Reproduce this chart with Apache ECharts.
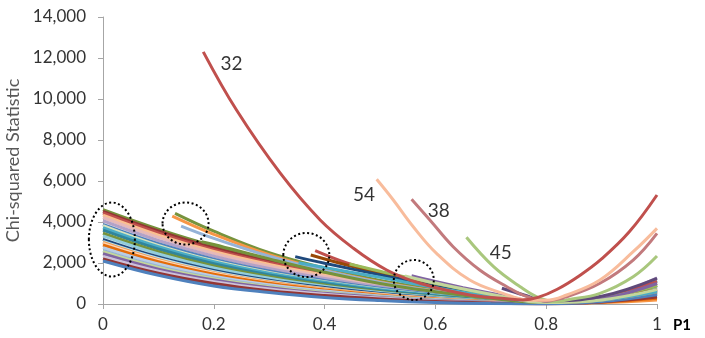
<!DOCTYPE html>
<html>
<head>
<meta charset="utf-8">
<script src="https://cdn.jsdelivr.net/npm/echarts@6/dist/echarts.min.js"></script>
<style>
  html, body { margin: 0; padding: 0; background: #fff; }
  #chart { width: 705px; height: 338px; }
</style>
</head>
<body>
<div id="chart"></div>
<script>
// x ticks and sampled P1 positions
const xTicks = [0, 0.2, 0.4, 0.6, 0.8, 1]
const yTicks = [0, 2000, 4000, 6000, 8000, 10000, 12000, 14000]
const pSteps = [0, 0.1, 0.2, 0.3, 0.4, 0.5, 0.6, 0.7, 0.8, 0.9, 1]

// curves starting at P1 = 0, one value per pSteps entry
const zeroCurves = [
  [4600, 3650, 2830, 2180, 1620, 1120, 700, 350, 120, 260, 900],
  [4520, 3560, 2740, 2090, 1540, 1060, 660, 320, 100, 220, 780],
  [4440, 3470, 2650, 2010, 1480, 1010, 630, 300, 90, 200, 650],
  [4330, 3360, 2560, 1930, 1410, 960, 590, 280, 80, 240, 980],
  [4220, 3250, 2460, 1840, 1340, 900, 550, 260, 70, 190, 720],
  [4060, 3100, 2330, 1730, 1250, 840, 510, 240, 70, 280, 1280],
  [3880, 2940, 2190, 1610, 1150, 770, 460, 210, 60, 170, 560],
  [3820, 2860, 2110, 1540, 1090, 720, 430, 200, 55, 200, 820],
  [3720, 2790, 2060, 1500, 1060, 700, 420, 190, 50, 160, 520],
  [3600, 2680, 1960, 1420, 1000, 650, 390, 170, 50, 190, 680],
  [3450, 2550, 1850, 1330, 930, 600, 350, 150, 40, 140, 480],
  [3320, 2440, 1760, 1260, 870, 560, 330, 140, 40, 220, 1100],
  [3150, 2290, 1640, 1160, 800, 510, 290, 120, 30, 110, 380],
  [3050, 2220, 1580, 1110, 760, 480, 280, 115, 30, 200, 1150],
  [3000, 2160, 1530, 1070, 730, 460, 260, 110, 30, 70, 200],
  [2950, 2120, 1500, 1040, 710, 450, 250, 105, 25, 160, 900],
  [2880, 2060, 1450, 1010, 680, 430, 240, 100, 25, 90, 280],
  [2750, 1950, 1360, 940, 630, 390, 220, 90, 20, 170, 960],
  [2610, 1830, 1270, 870, 580, 360, 200, 80, 20, 150, 860],
  [2550, 1780, 1230, 840, 560, 340, 190, 75, 15, 130, 600],
  [2450, 1700, 1170, 790, 520, 320, 170, 70, 15, 110, 500],
  [2320, 1600, 1090, 730, 480, 290, 150, 60, 15, 160, 1040],
  [2200, 1500, 1000, 650, 410, 240, 120, 45, 10, 100, 340],
  [2100, 1400, 880, 560, 320, 170, 70, 20, 10, 120, 450],
]
const zeroColors = [
  '#76923C', '#943634', '#C0504D', '#FAC090', '#E6B9B8', '#B3A2C7',
  '#4F81BD', '#D7E4BD', '#4BACC6', '#31859C', '#76923C', '#93CDDD',
  '#1F497D', '#B7DEE8', '#F79646', '#FCD5B5', '#E46C0A', '#B9CDE5',
  '#95B3D7', '#C3D69B', '#8064A2', '#CCC1DA', '#943634', '#4F81BD',
]

// curves that start further right, as [P1, statistic] pairs
const lateCurves = [
  [[0.13, 4420], [0.2, 3550], [0.3, 2500], [0.4, 1750], [0.5, 1150], [0.6, 700], [0.7, 330], [0.8, 100], [0.9, 300], [1, 1000]],
  [[0.125, 4290], [0.2, 3400], [0.3, 2400], [0.4, 1650], [0.5, 1080], [0.6, 640], [0.7, 300], [0.8, 90], [0.9, 200], [1, 600]],
  [[0.141, 3800], [0.2, 3200], [0.3, 2330], [0.4, 1620], [0.5, 1050], [0.6, 620], [0.7, 290], [0.8, 80], [0.9, 280], [1, 1150]],
  [[0.178, 3040], [0.2, 2900], [0.3, 2200], [0.4, 1550], [0.5, 1000], [0.6, 600], [0.7, 280], [0.8, 70], [0.9, 230], [1, 900]],
  [[0.383, 2600], [0.44, 2000], [0.5, 1550], [0.6, 950], [0.7, 450], [0.8, 110], [0.9, 330], [1, 1100]],
  [[0.375, 2390], [0.44, 1900], [0.5, 1500], [0.6, 920], [0.7, 430], [0.8, 100], [0.9, 250], [1, 700]],
  [[0.347, 2310], [0.4, 1990], [0.5, 1420], [0.6, 880], [0.7, 410], [0.8, 100], [0.9, 220], [1, 650]],
  [[0.353, 2015], [0.4, 1780], [0.5, 1300], [0.6, 800], [0.7, 380], [0.8, 90], [0.9, 200], [1, 600]],
  [[0.445, 1950], [0.5, 1600], [0.6, 1000], [0.7, 480], [0.8, 100], [0.9, 280], [1, 900]],
  [[0.557, 1380], [0.6, 1100], [0.65, 800], [0.7, 520], [0.75, 250], [0.8, 80], [0.9, 250], [1, 1000]],
  [[0.545, 1366], [0.6, 1020], [0.7, 480], [0.8, 70], [0.9, 200], [1, 700]],
  [[0.72, 770], [0.76, 440], [0.8, 150], [0.9, 380], [1, 1250]],
]
const lateColors = [
  '#77933C', '#F79646', '#95B3D7', '#76923C', '#C0504D', '#984807',
  '#1F497D', '#4BACC6', '#9BBB59', '#8064A2', '#C3D69B', '#5F497A',
]

// the four labelled curves
const curve32 = [[0.181, 12300], [0.241, 9460], [0.32, 6380], [0.392, 4100], [0.452, 2720], [0.512, 1660], [0.572, 1010], [0.662, 440], [0.729, 260], [0.758, 200], [0.785, 320], [0.82, 720], [0.86, 1380], [0.9, 2200], [0.95, 3520], [1, 5317]]
const curve54 = [[0.494, 6083], [0.524, 5073], [0.56, 3770], [0.602, 2470], [0.662, 1170], [0.722, 520], [0.765, 200], [0.8, 180], [0.837, 440], [0.897, 1170], [0.957, 2550], [1, 3690]]
const curve38 = [[0.557, 5107], [0.59, 4100], [0.632, 2795], [0.68, 1660], [0.729, 844], [0.765, 356], [0.8, 150], [0.837, 356], [0.897, 1010], [0.957, 2146], [1, 3449]]
const curve45 = [[0.656, 3253], [0.705, 1820], [0.753, 844], [0.789, 278], [0.82, 120], [0.837, 195], [0.897, 522], [0.957, 1332], [1, 2341]]

const curveLabels = [[0.232, 11700, '32'], [0.471, 5320, '54'], [0.606, 4540, '38'], [0.718, 2490, '45']]

// dotted rings, centre in data units
const ringCentres = [[0.016, 3146], [0.149, 3927], [0.367, 2390], [0.561, 1171]]
const ringRadii = [[23, 37], [23, 21], [23, 22], [20, 20]]

const FONT = 'Lato, "Open Sans", sans-serif'
const chart = echarts.init(document.getElementById('chart'))

const lineSeries = (data, color, z) => ({
  type: 'line',
  data,
  smooth: 0.4,
  symbol: 'none',
  silent: true,
  z,
  lineStyle: { color, width: 3 },
})

const series = []
zeroCurves.forEach((vals, i) => {
  series.push(lineSeries(vals.map((v, j) => [pSteps[j], v]), zeroColors[i], 2))
})
lateCurves.forEach((pts, i) => series.push(lineSeries(pts, lateColors[i], 3)))
series.push(lineSeries(curve45, '#A9C77D', 4))
series.push(lineSeries(curve38, '#C27A7D', 4))
series.push(lineSeries(curve54, '#F8BC9C', 4))
series.push(lineSeries(curve32, '#C0504D', 5))
series.push({
  type: 'scatter',
  data: curveLabels,
  symbolSize: 0,
  silent: true,
  z: 6,
  label: {
    show: true,
    position: 'inside',
    formatter: p => p.data[2],
    color: '#000',
    fontSize: 19,
    fontFamily: FONT,
  },
})

chart.setOption({
  animation: false,
  backgroundColor: '#fff',
  grid: { left: 103, right: 48, top: 17, bottom: 34, outerBoundsMode: 'none' },
  xAxis: {
    type: 'value',
    min: xTicks[0],
    max: xTicks[xTicks.length - 1],
    interval: xTicks[1] - xTicks[0],
    name: 'P1',
    nameLocation: 'end',
    nameGap: 16,
    nameTextStyle: { fontWeight: 'bold', fontSize: 15, color: '#000', fontFamily: FONT, verticalAlign: 'top', padding: [14, 0, 0, 0] },
    axisLine: { show: true, lineStyle: { color: '#A6A6A6', width: 1 } },
    axisTick: { show: true, length: 5, lineStyle: { color: '#A6A6A6' } },
    axisLabel: { color: '#333', fontSize: 17, fontFamily: FONT, margin: 12 },
    splitLine: { show: false },
  },
  yAxis: {
    type: 'value',
    min: yTicks[0],
    max: yTicks[yTicks.length - 1],
    interval: yTicks[1] - yTicks[0],
    name: 'Chi-squared Statistic',
    nameLocation: 'middle',
    nameGap: 72,
    nameTextStyle: { fontSize: 18, color: '#595959', fontFamily: FONT },
    axisLine: { show: true, lineStyle: { color: '#A6A6A6', width: 1 } },
    axisTick: { show: true, length: 5, lineStyle: { color: '#A6A6A6' } },
    axisLabel: {
      color: '#333',
      fontSize: 17,
      fontFamily: FONT,
      margin: 17,
      formatter: v => v.toLocaleString('en-US'),
    },
    splitLine: { show: false },
  },
  series,
})

// dotted rings placed through the grid's own scale
const graphic = ringCentres.map((c, i) => {
  const [x, y] = chart.convertToPixel({ gridIndex: 0 }, c)
  return {
    type: 'ellipse',
    z: 100,
    silent: true,
    shape: { cx: x, cy: y, rx: ringRadii[i][0], ry: ringRadii[i][1] },
    style: { fill: 'none', stroke: '#000', lineWidth: 2, lineDash: [2, 2.5] },
  }
})
chart.setOption({ graphic })
</script>
</body>
</html>
